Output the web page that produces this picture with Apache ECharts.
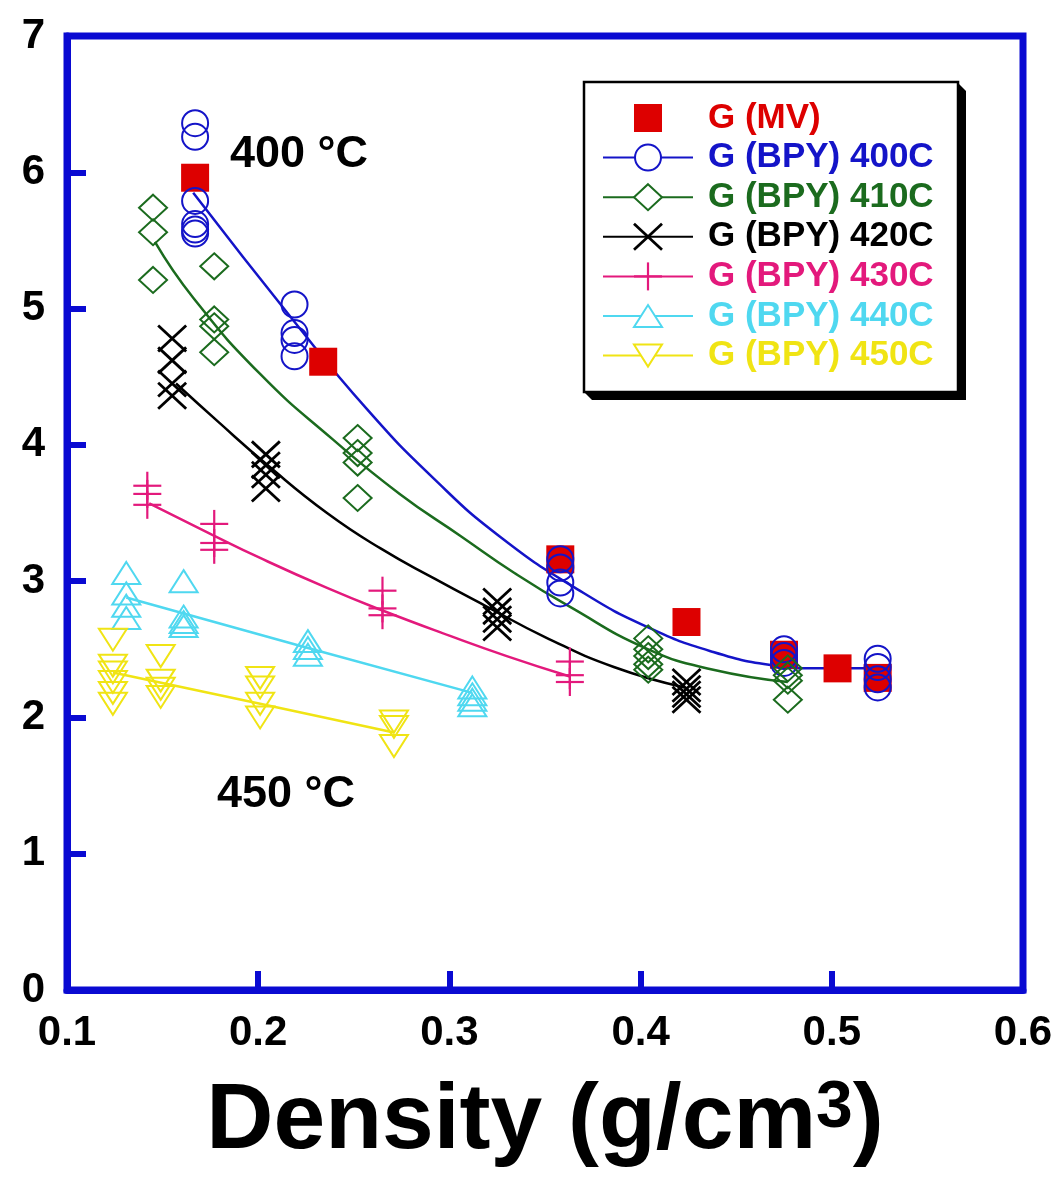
<!DOCTYPE html>
<html>
<head>
<meta charset="utf-8">
<script src="https://cdn.jsdelivr.net/npm/echarts@6/dist/echarts.min.js"></script>
<style>
  html, body { margin: 0; padding: 0; background: #ffffff; }
  #chart { width: 1059px; height: 1189px; }
</style>
</head>
<body>
<div id="chart"></div>
<script>
// ---- tick labels ----
const xTickLabels = ['0.1', '0.2', '0.3', '0.4', '0.5', '0.6'];
const yTickLabels = ['0', '1', '2', '3', '4', '5', '6', '7'];

// ---- series names and colours ----
const seriesNames = ['G (MV)', 'G (BPY) 400C', 'G (BPY) 410C', 'G (BPY) 420C',
                     'G (BPY) 430C', 'G (BPY) 440C', 'G (BPY) 450C'];
const seriesColors = ['#dd0000', '#1414c8', '#1b6b1e', '#000000',
                      '#e3197c', '#4fd8f0', '#f0e414'];
const markerKinds = ['square', 'circle', 'diamond', 'cross', 'plus', 'triangle', 'invTriangle'];

// ---- G (MV): density (g/cm3), G ----
const mvPoints = [[0.167, 5.96], [0.234, 4.61], [0.358, 3.16], [0.424, 2.70],
                  [0.475, 2.46], [0.503, 2.36], [0.524, 2.29]];

// ---- G (BPY) measurements ----
const bpy400 = [[0.167, 6.36], [0.167, 6.26], [0.167, 5.79], [0.167, 5.62], [0.167, 5.58], [0.167, 5.55],
                [0.219, 5.03], [0.219, 4.82], [0.219, 4.77], [0.219, 4.65],
                [0.358, 3.16], [0.358, 3.10], [0.358, 2.99], [0.358, 2.91],
                [0.475, 2.50], [0.475, 2.45], [0.475, 2.40],
                [0.524, 2.43], [0.524, 2.37], [0.524, 2.28], [0.524, 2.22]];
const bpy410 = [[0.145, 5.74], [0.145, 5.56], [0.145, 5.21],
                [0.177, 5.31], [0.177, 4.92], [0.177, 4.87], [0.177, 4.68],
                [0.252, 4.05], [0.252, 3.94], [0.252, 3.87], [0.252, 3.61],
                [0.404, 2.58], [0.404, 2.50], [0.404, 2.45], [0.404, 2.39], [0.404, 2.35],
                [0.477, 2.36], [0.477, 2.31], [0.477, 2.27], [0.477, 2.13]];
const bpy420 = [[0.155, 4.78], [0.155, 4.62], [0.155, 4.45], [0.155, 4.36],
                [0.204, 3.93], [0.204, 3.85], [0.204, 3.78], [0.204, 3.68],
                [0.325, 2.85], [0.325, 2.78], [0.325, 2.72], [0.325, 2.66],
                [0.424, 2.26], [0.424, 2.21], [0.424, 2.17], [0.424, 2.13]];
const bpy430 = [[0.142, 3.70], [0.142, 3.64], [0.142, 3.56],
                [0.177, 3.42], [0.177, 3.28], [0.177, 3.23],
                [0.265, 2.93], [0.265, 2.80], [0.265, 2.75],
                [0.363, 2.41], [0.363, 2.31], [0.363, 2.26]];
const bpy440 = [[0.131, 3.06], [0.131, 2.91], [0.131, 2.82], [0.131, 2.73],
                [0.161, 3.00], [0.161, 2.74], [0.161, 2.70], [0.161, 2.67],
                [0.226, 2.56], [0.226, 2.51], [0.226, 2.46],
                [0.312, 2.22], [0.312, 2.17], [0.312, 2.13], [0.312, 2.09]];
const bpy450 = [[0.124, 2.57], [0.124, 2.38], [0.124, 2.33], [0.124, 2.26], [0.124, 2.18], [0.124, 2.10],
                [0.149, 2.45], [0.149, 2.27], [0.149, 2.21], [0.149, 2.15],
                [0.201, 2.29], [0.201, 2.22], [0.201, 2.10], [0.201, 2.00],
                [0.271, 1.97], [0.271, 1.93], [0.271, 1.79]];

// ---- fitted curves ----
const fit400 = [[0.166, 5.85], [0.218, 4.92], [0.257, 4.26], [0.292, 3.75], [0.327, 3.32],
                [0.367, 2.94], [0.404, 2.66], [0.438, 2.48], [0.470, 2.38], [0.490, 2.36], [0.524, 2.36]];
const fit410 = [[0.146, 5.49], [0.166, 5.08], [0.201, 4.52], [0.239, 4.04], [0.274, 3.64], [0.306, 3.33],
                [0.334, 3.06], [0.362, 2.82], [0.404, 2.50], [0.438, 2.35], [0.477, 2.26]];
const fit420 = [[0.157, 4.45], [0.179, 4.17], [0.205, 3.85], [0.236, 3.50], [0.264, 3.24], [0.292, 3.02],
                [0.320, 2.81], [0.350, 2.59], [0.386, 2.37], [0.423, 2.22]];
const fit430 = [[0.143, 3.57], [0.176, 3.34], [0.201, 3.17], [0.236, 2.95], [0.264, 2.79], [0.300, 2.60],
                [0.330, 2.45], [0.363, 2.30]];
const fit440 = [[0.131, 2.88], [0.226, 2.51], [0.312, 2.18]];
const fit450 = [[0.124, 2.33], [0.201, 2.10], [0.271, 1.89]];

const bpySets = [bpy400, bpy410, bpy420, bpy430, bpy440, bpy450];
const fitSets = [fit400, fit410, fit420, fit430, fit440, fit450];

const FONT = '"Liberation Sans", Arial, Helvetica, sans-serif';
const FRAME = '#0a0ad2';

// Open marker shapes, centred on (cx, cy)
function marker(kind, cx, cy, color) {
  const s = { fill: 'none', stroke: color, lineWidth: 2 };
  switch (kind) {
    case 'square':
      return [{ type: 'rect', shape: { x: cx - 14, y: cy - 14, width: 28, height: 28 }, style: { fill: color } }];
    case 'circle':
      return [{ type: 'circle', shape: { cx: cx, cy: cy, r: 13 }, style: s }];
    case 'diamond':
      return [{ type: 'polygon', shape: { points: [[cx, cy - 13], [cx + 14, cy], [cx, cy + 13], [cx - 14, cy]] }, style: s }];
    case 'cross': {
      const t = { stroke: color, lineWidth: 2.8 };
      return [
        { type: 'line', shape: { x1: cx - 14, y1: cy - 13, x2: cx + 14, y2: cy + 13 }, style: t },
        { type: 'line', shape: { x1: cx - 14, y1: cy + 13, x2: cx + 14, y2: cy - 13 }, style: t }
      ];
    }
    case 'plus': {
      const t = { stroke: color, lineWidth: 2.2 };
      return [
        { type: 'line', shape: { x1: cx - 14, y1: cy, x2: cx + 14, y2: cy }, style: t },
        { type: 'line', shape: { x1: cx, y1: cy - 14, x2: cx, y2: cy + 14 }, style: t }
      ];
    }
    case 'triangle':
      return [{ type: 'polygon', shape: { points: [[cx, cy - 11], [cx + 14, cy + 11], [cx - 14, cy + 11]] }, style: s }];
    case 'invTriangle':
      return [{ type: 'polygon', shape: { points: [[cx - 14, cy - 11], [cx + 14, cy - 11], [cx, cy + 11]] }, style: s }];
  }
  return [];
}

const series = [];

// fitted curves underneath everything
fitSets.forEach(function (pts, i) {
  series.push({
    name: seriesNames[i + 1] + ' fit',
    type: 'line',
    data: pts,
    smooth: 0.5,
    symbol: 'none',
    z: 2,
    silent: true,
    lineStyle: { color: seriesColors[i + 1], width: 2.5 },
    animation: false
  });
});

// G (MV) filled squares
series.push({
  name: seriesNames[0],
  type: 'scatter',
  data: mvPoints,
  symbol: 'rect',
  symbolSize: 28,
  z: 3,
  itemStyle: { color: seriesColors[0], opacity: 1 },
  animation: false
});

// G (BPY) open markers
bpySets.forEach(function (pts, i) {
  const kind = markerKinds[i + 1];
  const color = seriesColors[i + 1];
  series.push({
    name: seriesNames[i + 1],
    type: 'custom',
    data: pts,
    z: 4,
    encode: { x: 0, y: 1 },
    renderItem: function (params, api) {
      const p = api.coord([api.value(0), api.value(1)]);
      return { type: 'group', children: marker(kind, p[0], p[1], color) };
    },
    animation: false
  });
});

// ---- legend box (shadow, frame, then one row per series) ----
const LX = 584, LY = 82, LW = 374, LH = 310;
const overlay = [
  { type: 'polygon', z: 10, shape: { points: [[LX + LW, LY + 1], [LX + LW + 8, LY + 9], [LX + LW + 8, LY + LH + 8], [LX + 8, LY + LH + 8], [LX, LY + LH]] }, style: { fill: '#000' } },
  { type: 'rect', z: 11, shape: { x: LX, y: LY, width: LW, height: LH }, style: { fill: '#fff', stroke: '#000', lineWidth: 2.5 } }
];
seriesNames.forEach(function (name, i) {
  const cy = 118 + i * 39.6;
  const color = seriesColors[i];
  if (i > 0) {
    overlay.push({ type: 'line', z: 12, shape: { x1: 603, y1: cy, x2: 693, y2: cy }, style: { stroke: color, lineWidth: 2 } });
  }
  marker(markerKinds[i], 648, cy, color).forEach(function (m) {
    if (m.style && m.style.fill === 'none') m.style.fill = '#fff';
    m.z = 13;
    overlay.push(m);
  });
  overlay.push({
    type: 'text', z: 13, x: 708, y: cy,
    style: { text: name, fill: color, font: 'bold 35px ' + FONT, verticalAlign: 'middle', align: 'left' }
  });
});

// ---- temperature annotations ----
overlay.push({
  type: 'text', z: 12, x: 230, y: 155,
  style: { text: '400 °C', fill: '#000', font: 'bold 45px ' + FONT, verticalAlign: 'middle' }
});
overlay.push({
  type: 'text', z: 12, x: 217, y: 795,
  style: { text: '450 °C', fill: '#000', font: 'bold 45px ' + FONT, verticalAlign: 'middle' }
});

const option = {
  backgroundColor: '#ffffff',
  animation: false,
  grid: {
    left: 67, right: 36, top: 36, bottom: 199,
    show: true, borderColor: FRAME, borderWidth: 7,
    backgroundColor: 'transparent',
    outerBoundsMode: 'none'
  },
  xAxis: {
    type: 'value',
    min: 0.1, max: 0.6, interval: 0.1,
    axisLine: { show: true, lineStyle: { color: FRAME, width: 7 } },
    axisTick: { show: true, inside: true, length: 19, lineStyle: { color: FRAME, width: 6 } },
    splitLine: { show: false },
    axisLabel: {
      margin: 22,
      color: '#000', fontSize: 42, fontWeight: 'bold', fontFamily: FONT,
      formatter: function (v) { return xTickLabels[Math.round((v - 0.1) * 10)]; }
    },
    name: '{t|Density (g/cm}{s|3}{t|)}',
    nameLocation: 'middle',
    nameGap: 86,
    nameMoveOverlap: false,
    nameTextStyle: {
      rich: {
        t: { fontSize: 93, fontWeight: 'bold', fontFamily: FONT, color: '#000' },
        s: { fontSize: 66, fontWeight: 'bold', fontFamily: FONT, color: '#000', verticalAlign: 'top' }
      }
    }
  },
  yAxis: {
    type: 'value',
    min: 0, max: 7, interval: 1,
    axisLine: { show: true, lineStyle: { color: FRAME, width: 7 } },
    axisTick: { show: true, inside: true, length: 19, lineStyle: { color: FRAME, width: 6 } },
    splitLine: { show: false },
    axisLabel: {
      margin: 22,
      color: '#000', fontSize: 42, fontWeight: 'bold', fontFamily: FONT,
      formatter: function (v) { return yTickLabels[Math.round(v)]; }
    }
  },
  graphic: overlay,
  series: series
};

const chart = echarts.init(document.getElementById('chart'), null, { renderer: 'canvas' });
chart.setOption(option);
</script>
</body>
</html>
